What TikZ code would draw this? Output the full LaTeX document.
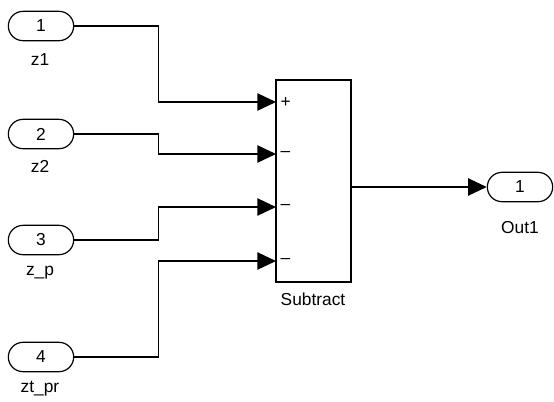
\documentclass[tikz,border=0pt]{standalone}
\usepackage{fontspec}
\setmainfont{Liberation Sans}
\usetikzlibrary{arrows.meta}

\begin{document}
\begin{tikzpicture}[x=0.75pt, y=-0.75pt, line width=1.1pt, font=\fontsize{13}{15}\selectfont,
    port/.style={draw, line width=0.9pt, rounded corners=11pt, minimum width=49pt, minimum height=22pt, inner sep=0pt},
    block/.style={draw, minimum width=56.25pt, minimum height=151.5pt, inner sep=0pt},
    sig/.style={-{Triangle[length=14pt, width=13pt]}},
    lbl/.style={inner sep=0pt}]
    \useasboundingbox (0,0) rectangle (554,401);

    % Inports
    \node[port] (in1) at (41,26) {1};
    \node[port] (in2) at (41,134) {2};
    \node[port] (in3) at (41,240) {3};
    \node[port] (in4) at (41,357) {4};
    \node[lbl] (l1) at (40,60) {z1};
    \node[lbl] (l2) at (40,166) {z2};
    \node[lbl] (l3) at (40,273) {z\_p};
    \node[lbl] (l4) at (40,389) {zt\_pr};

    % Subtract block
    \node[block] (sub) at (313.5,181) {};
    \node[lbl] (lsub) at (313,299) {Subtract};
    \coordinate (p1) at (276,102);
    \coordinate (p2) at (276,154);
    \coordinate (p3) at (276,207);
    \coordinate (p4) at (276,261);
    \node[lbl, right=3pt] at (p1) {+};
    \node[lbl, right=3pt] at (p2) {–};
    \node[lbl, right=3pt] at (p3) {–};
    \node[lbl, right=3pt] at (p4) {–};

    % Outport
    \node[port] (out1) at (520,187) {1};
    \node[lbl] (lout) at (520,228) {Out1};

    % Signals
    \draw[sig] (in1.east) -- ++(84,0) |- (p1);
    \draw[sig] (in2.east) -- ++(84,0) |- (p2);
    \draw[sig] (in3.east) -- ++(84,0) |- (p3);
    \draw[sig] (in4.east) -- ++(84,0) |- (p4);
    \draw[sig] (sub.east |- out1) -- (out1.west);
\end{tikzpicture}
\end{document}
